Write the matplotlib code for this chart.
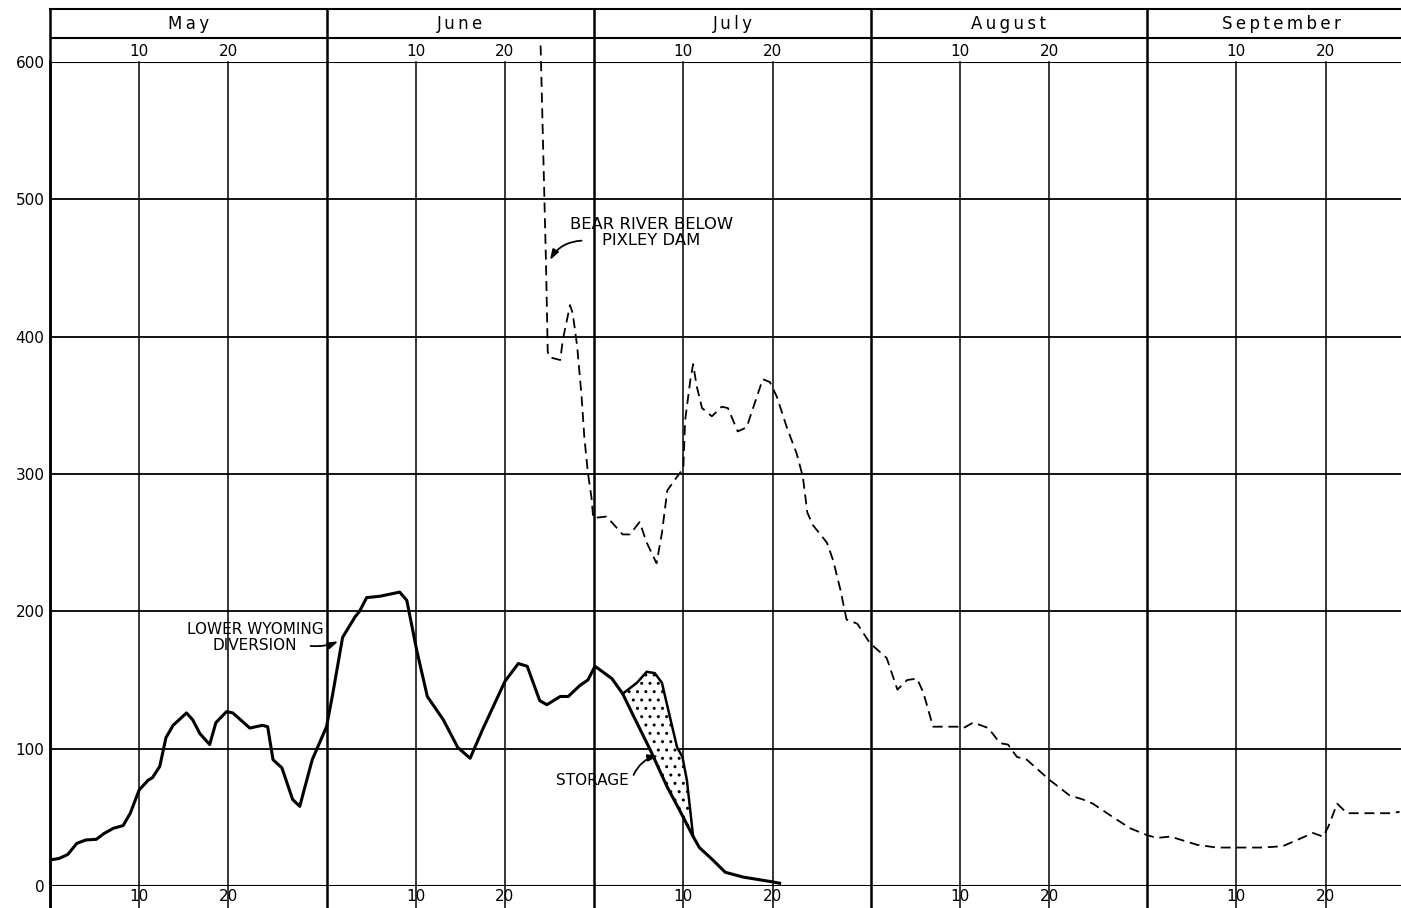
import matplotlib
matplotlib.use("Agg")
import matplotlib.pyplot as plt

plt.rcParams['font.family'] = ['DejaVu Sans']

# ---------------- data ----------------
months = ["May", "June", "July", "August", "September"]
month_starts = [0, 31, 61, 92, 123, 153]          # cumulative day boundaries
day_ticks = [10, 20, 41, 51, 71, 81, 102, 112, 133, 143]
day_labels = ["10", "20", "10", "20", "10", "20", "10", "20", "10", "20"]
y_ticks = [0, 100, 200, 300, 400, 500, 600]

# Lower Wyoming diversion (days from Apr 30, second-feet)
div_days = [0, 1, 2, 3, 4, 5.2, 6, 7.1, 8.2, 9, 10, 11, 11.5, 12.3, 13, 13.8,
            15.3, 16, 16.8, 17.9, 18.6, 19.8, 20.5, 22.4, 23.8, 24.4, 25, 26,
            27.2, 28, 29.4, 31, 31.7, 32.8, 34.2, 34.7, 35.5, 37, 39.2, 40.0,
            41.1, 42.3, 44.1, 45.7, 47.1, 48.5, 51, 52.5, 53.5, 54.9, 55.7,
            57.2, 58.1, 59.4, 60.3, 61.1, 63, 64.2, 65.4, 67.3, 69.2, 70.6,
            72.1, 72.8, 74.3, 75.7, 77.7, 81, 81.8]
div_vals = [19, 20, 23, 31, 33.5, 34, 38, 42, 44, 53, 70, 77, 79, 87, 108, 117,
            126, 121, 111, 103, 119, 127, 126, 115, 117, 116, 92, 86,
            63, 58, 92, 116, 140, 181, 196, 200, 210, 211, 214, 208,
            172, 138, 121, 101, 93, 114, 149, 162, 160, 135, 132,
            138, 138, 146, 150, 160, 151, 140, 124, 99, 72, 55,
            36, 28, 19, 10, 6.5, 3, 2]

# Upper boundary of storage area
sto_days = [64.2, 65.8, 66.9, 67.8, 68.6, 69.5, 70.3, 70.9, 71.4, 72.1]
sto_vals = [140, 148, 156, 155, 148, 123, 101, 94, 77, 36]
# Lower boundary of storage area (part of the diversion curve)
sto_low_days = [64.2, 65.4, 67.3, 69.2, 70.6, 72.1]
sto_low_vals = [140, 124, 99, 72, 55, 36]

# Bear River below Pixley Dam
bear_days = [55.0, 55.6, 55.8, 56.0, 57.2, 57.5, 58.3, 58.6, 59.1, 59.6, 59.9,
             60.3, 60.7, 60.9, 62.4, 64.2, 65.0, 66.1, 66.9, 68.0, 68.6, 69.2,
             70.3, 71.0, 71.2, 71.8, 72.1, 72.5, 73.1, 74.2, 75.3, 76.0, 77.1,
             78.1, 79.9, 80.7, 81.5, 82.6, 83.7, 84.4, 84.9, 85.5, 87.1, 87.8,
             88.6, 89.3, 90.5, 91.9, 93.8, 95.0, 96.1, 97.2, 97.9, 99.0, 101.7,
             102.4, 103.5, 105.2, 106.5, 107.4, 108.4, 109.5, 112.1, 114.3,
             115.8, 116.9, 119.2, 121.1, 123.0, 124.1, 125.6, 128.6, 130.8,
             133.1, 136.0, 138.2, 139.8, 141.6, 142.7, 143.3, 144.3, 145.4,
             147.2, 150.2, 151.3]
bear_vals = [612, 455, 389, 385, 383, 398, 423, 417, 393, 356, 327,
             301, 283, 268, 269, 256, 256, 265, 250, 235, 257, 288,
             298, 304, 339, 369, 380, 364, 348, 342, 349, 348, 331,
             334, 369, 367, 356, 334, 315, 298, 272, 263, 250, 237,
             216, 194, 191, 177, 166, 143, 150, 151, 141, 116, 116,
             115, 119, 115, 104, 103, 94, 92, 77, 66,
             63, 60, 50, 42, 37, 35, 36, 30, 28,
             28, 28, 29, 33.5, 38.6, 36, 43, 60, 53,
             53, 53, 54]

# ---------------- figure ----------------
W, H = 1401, 908
fig = plt.figure(figsize=(W / 100, H / 100), dpi=100)
XMAX = 1351 / 8.92

ax = fig.add_axes([50 / W, 22 / H, 1351 / W, 824 / H])
ax.set_xlim(0, XMAX)
ax.set_ylim(0, 600)
for s in ax.spines.values():
    s.set_visible(False)

below = -22 / 824
# horizontal grid
for v in y_ticks:
    ax.axhline(v, color='black', lw=1.5 if v in (0, 600) else 1.3, zorder=1)
# vertical grid
for d in day_ticks:
    ax.axvline(d, ymin=below, ymax=1, color='black', lw=1.1, clip_on=False, zorder=1)
for d in month_starts[:-1]:
    ax.axvline(d, ymin=below, ymax=1, color='black', lw=1.8, clip_on=False, zorder=1)

ax.set_yticks(y_ticks)
ax.set_yticklabels([str(v) for v in y_ticks], fontsize=11)
ax.set_xticks(day_ticks)
ax.set_xticklabels(day_labels, fontsize=11)
ax.tick_params(axis='both', length=0)
ax.tick_params(axis='x', pad=2)
ax.tick_params(axis='y', pad=4)

# storage fill
poly_x = sto_days + sto_low_days[::-1]
poly_y = sto_vals + sto_low_vals[::-1]
ax.fill(poly_x, poly_y, facecolor='white', edgecolor='black', hatch='..',
        lw=0, zorder=2)

# series
ax.plot(div_days, div_vals, color='black', lw=2.2, solid_joinstyle='round', zorder=3)
ax.plot(sto_days, sto_vals, color='black', lw=1.8, zorder=3)
ax.plot(bear_days, bear_vals, color='black', lw=1.3, linestyle=(0, (5.5, 3.2)),
        zorder=3, clip_on=False)

# annotations
ax.text(67.4, 476, "BEAR RIVER BELOW\nPIXLEY DAM", ha='center', va='center',
        fontsize=11.8, linespacing=1.05, zorder=4)
ax.annotate("", xy=(55.9, 454), xytext=(59.9, 470),
            arrowprops=dict(arrowstyle='-|>,head_length=0.6,head_width=0.2',
                            color='black', lw=1.3,
                            connectionstyle='arc3,rad=0.3'), zorder=4)

ax.text(23.0, 181, "LOWER WYOMING\nDIVERSION", ha='center', va='center',
        fontsize=11, linespacing=1.05, zorder=4)
ax.annotate("", xy=(32.6, 179), xytext=(28.9, 175),
            arrowprops=dict(arrowstyle='-|>,head_length=0.6,head_width=0.2',
                            color='black', lw=1.3,
                            connectionstyle='arc3,rad=0.15'), zorder=4)

ax.text(60.8, 77, "STORAGE", ha='center', va='center', fontsize=11, zorder=4)
ax.annotate("", xy=(68.5, 95), xytext=(65.3, 79),
            arrowprops=dict(arrowstyle='-|>,head_length=0.6,head_width=0.2',
                            color='black', lw=1.3,
                            connectionstyle='arc3,rad=-0.3'), zorder=4)

# left border line extending full height
ax.axvline(0, ymin=below, ymax=1, color='black', lw=1.8, clip_on=False, zorder=5)

# ---------------- header ----------------
hx = fig.add_axes([50 / W, 846 / H, 1351 / W, 53 / H])
hx.set_xlim(0, XMAX)
hx.set_ylim(0, 53)
hx.axis('off')
hx.axhline(53, color='black', lw=1.5, clip_on=False)
hx.axhline(24, color='black', lw=1.5)
hx.axvline(0, color='black', lw=1.8, clip_on=False)
for d in month_starts[1:-1]:
    hx.axvline(d, color='black', lw=1.8)
for i, m in enumerate(months):
    mid = (month_starts[i] + month_starts[i + 1]) / 2
    hx.text(mid, 38, "\u2009".join(m), ha='center', va='center', fontsize=12,
            clip_on=True)
for d, lab in zip(day_ticks, day_labels):
    hx.text(d, 11, lab, ha='center', va='center', fontsize=11)

fig.savefig("out.png", dpi=100, facecolor='white')
